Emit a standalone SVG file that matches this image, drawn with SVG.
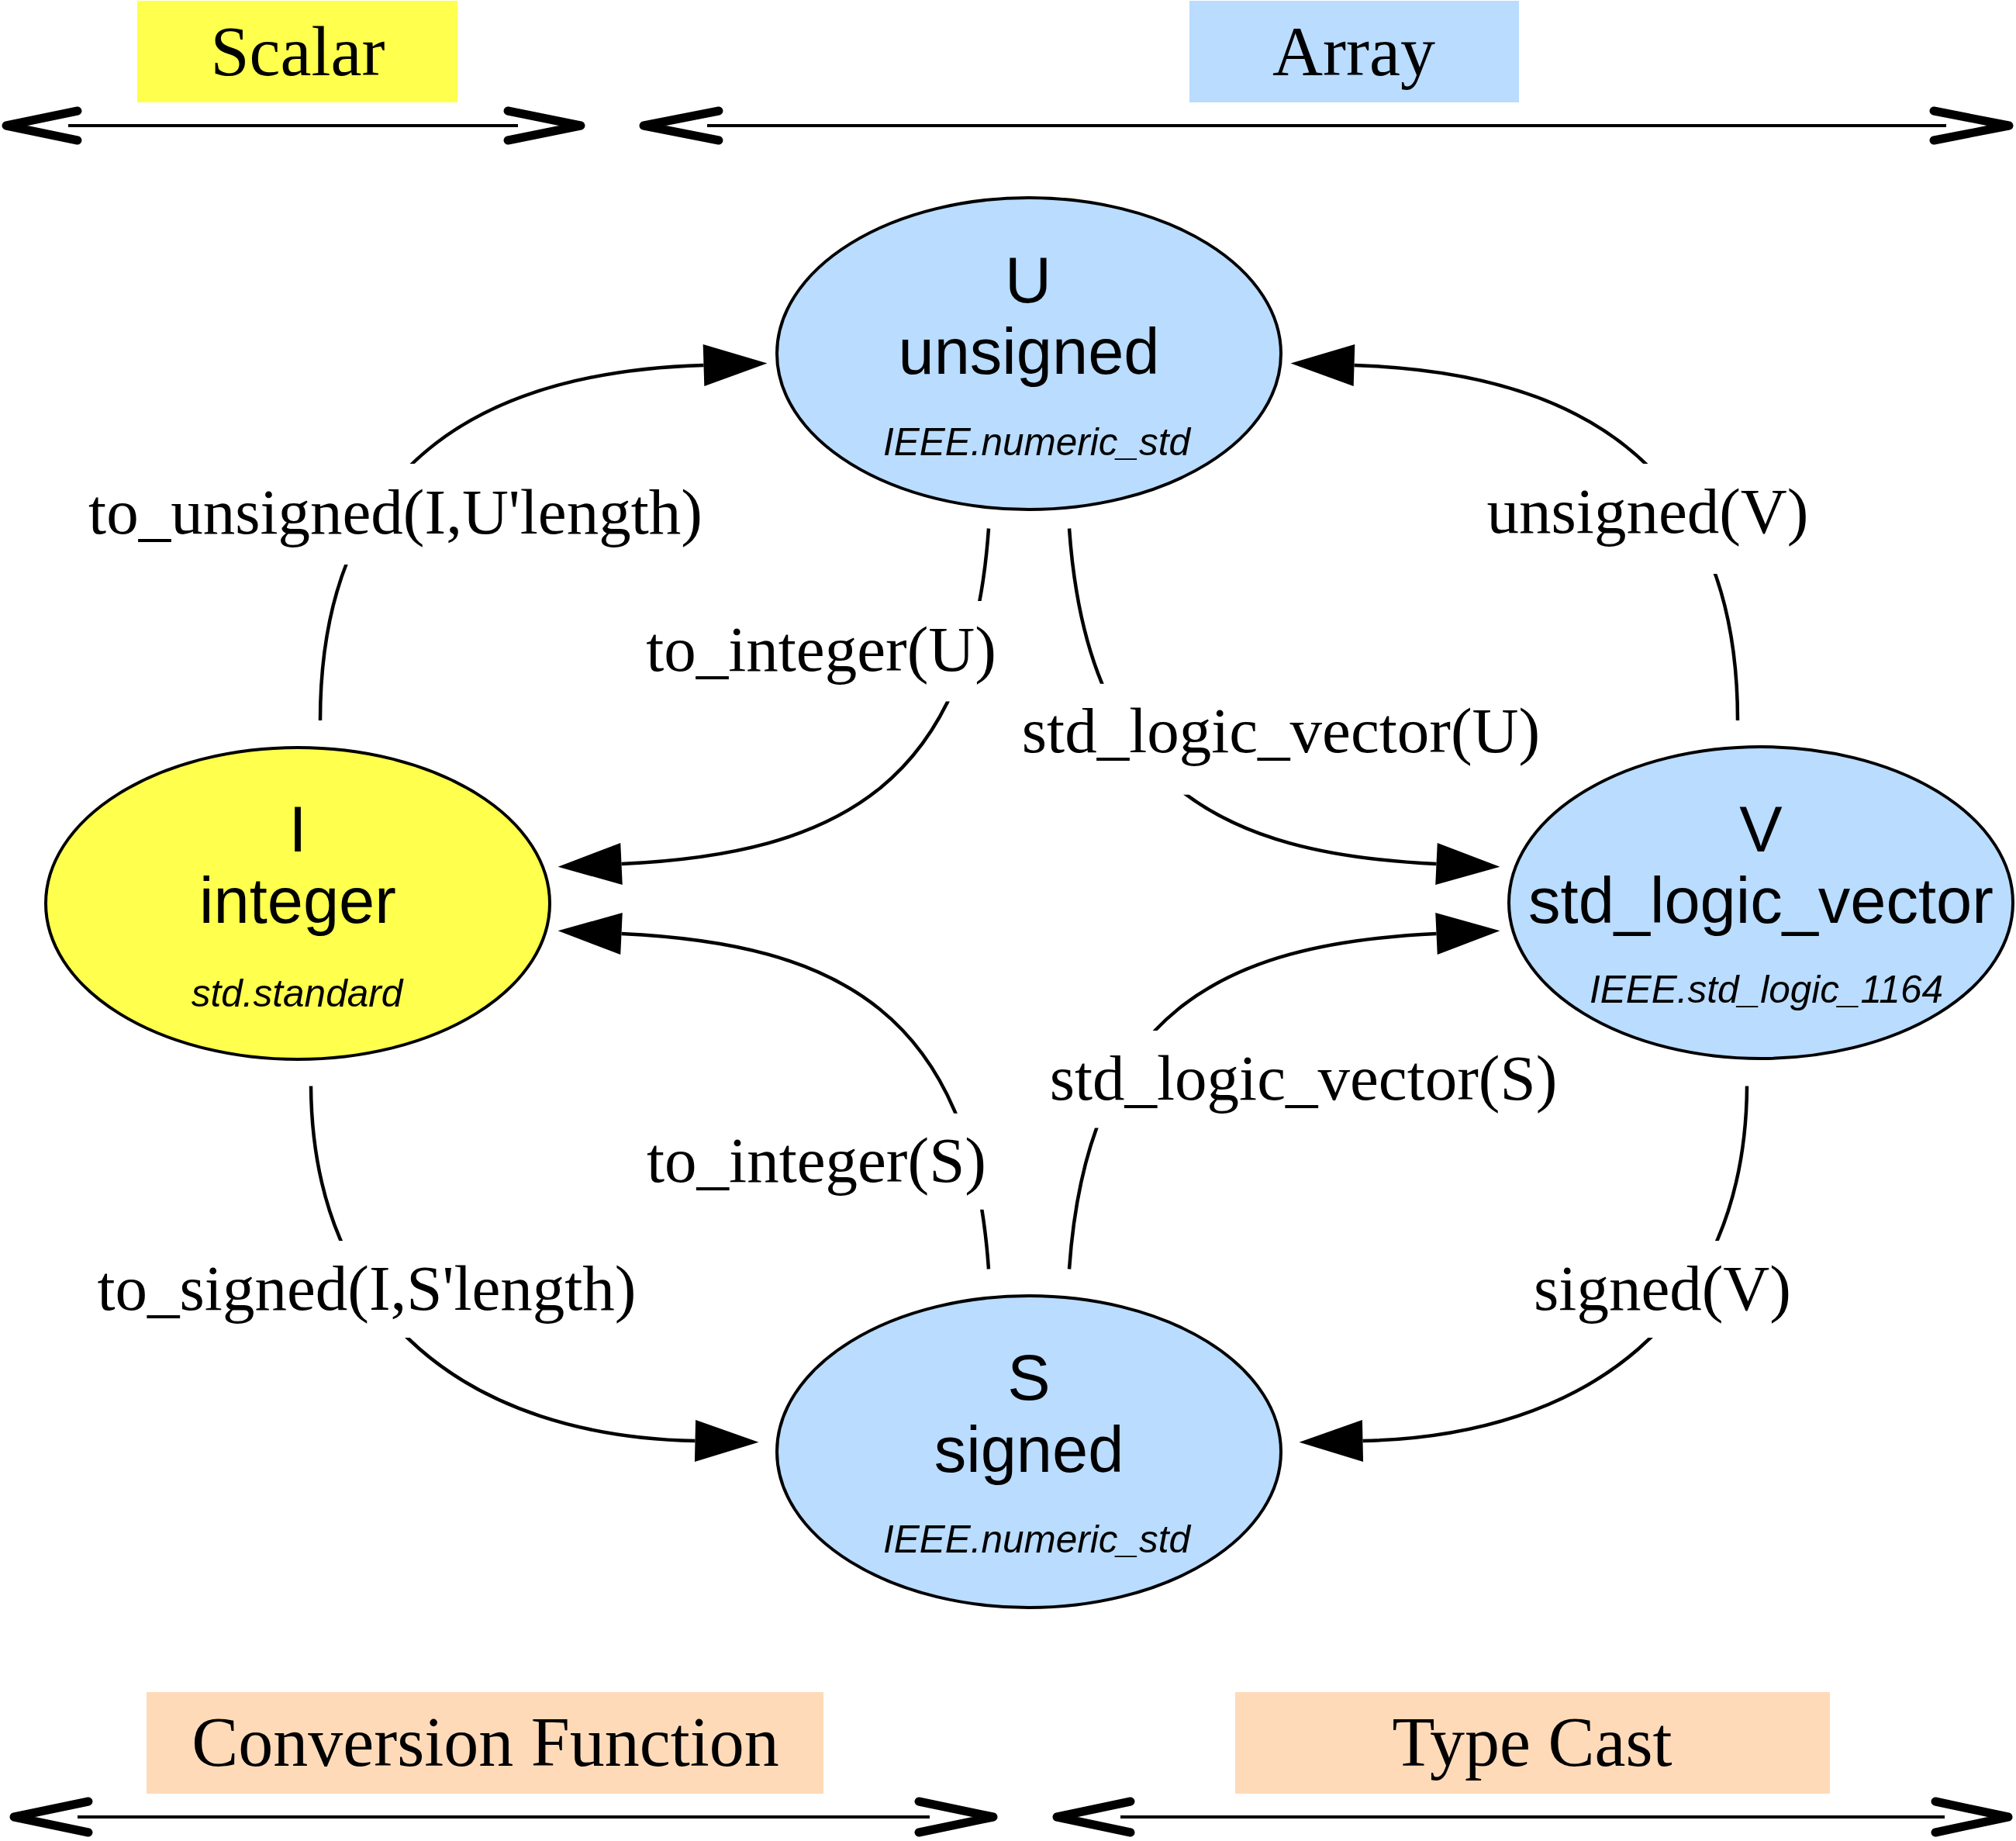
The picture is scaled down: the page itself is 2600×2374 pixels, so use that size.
<svg xmlns="http://www.w3.org/2000/svg" width="2600" height="2374" viewBox="0 0 2600 2374">
<style>
.bg{fill:#ffffff}
.lbl{font-family:"Liberation Serif","Times New Roman",serif;font-size:90px;fill:#000;text-anchor:middle}
.elbl{font-family:"Liberation Serif","Times New Roman",serif;font-size:83px;fill:#000;text-anchor:middle}
.nm{font-family:"Liberation Sans",Arial,sans-serif;font-size:83px;fill:#000;text-anchor:middle}
.pk{font-family:"Liberation Sans",Arial,sans-serif;font-size:49.5px;font-style:italic;fill:#000;text-anchor:middle}
.node{stroke:#000;stroke-width:4}
.yel{fill:#ffff4d}
.blu{fill:#b9dcff}
.pch{fill:#ffdab9}
.edge{fill:none;stroke:#000;stroke-width:4.5;marker-end:url(#ah)}
.axis{fill:none;stroke:#000;stroke-width:4}
.chev{fill:none;stroke:#000;stroke-width:11;stroke-linecap:round;stroke-linejoin:round}
</style>
<defs>
<marker id="ah" markerUnits="userSpaceOnUse" viewBox="0 -28 84 56" markerWidth="84" markerHeight="56" refX="0" refY="0" orient="auto" overflow="visible">
<path d="M0,-27 L82,0 L0,27 Z" fill="#000"/>
</marker>
<clipPath id="c1"><path clip-rule="evenodd" d="M0 0H2600V2374H0Z M0 598H2600V728H0Z"/></clipPath>
<clipPath id="c2"><path clip-rule="evenodd" d="M0 0H2600V2374H0Z M0 598H2600V740H0Z"/></clipPath>
<clipPath id="c3"><path clip-rule="evenodd" d="M0 0H2600V2374H0Z M0 775H2600V904.5H0Z"/></clipPath>
<clipPath id="c4"><path clip-rule="evenodd" d="M0 0H2600V2374H0Z M0 881.7H2600V1024.7H0Z"/></clipPath>
<clipPath id="c5"><path clip-rule="evenodd" d="M0 0H2600V2374H0Z M0 1435.7H2600V1559.7H0Z"/></clipPath>
<clipPath id="c6"><path clip-rule="evenodd" d="M0 0H2600V2374H0Z M0 1329H2600V1454.6H0Z"/></clipPath>
<clipPath id="c7"><path clip-rule="evenodd" d="M0 0H2600V2374H0Z M0 1600H2600V1725H0Z"/></clipPath>
<clipPath id="c8"><path clip-rule="evenodd" d="M0 0H2600V2374H0Z M0 1600H2600V1725H0Z"/></clipPath>
</defs>
<rect class="bg" x="0" y="0" width="2600" height="2374"/>

<g id="legend-scalar">
<rect class="yel" x="177" y="1" width="413" height="131"/>
<text class="lbl" x="384" y="97">Scalar</text>
<path class="axis" d="M88,162 H668"/>
<path class="chev" d="M100,143 L8,162 L100,181"/>
<path class="chev" d="M655,143 L749,162 L655,181"/>
</g>
<g id="legend-array">
<rect class="blu" x="1534" y="1" width="425" height="131"/>
<text class="lbl" x="1746" y="97">Array</text>
<path class="axis" d="M912,162 H2510"/>
<path class="chev" d="M927,143 L830,162 L927,181"/>
<path class="chev" d="M2494,143 L2591,162 L2494,181"/>
</g>
<g id="legend-conversion">
<rect class="pch" x="189" y="2182" width="873" height="131"/>
<text class="lbl" x="626" y="2277">Conversion Function</text>
<path class="axis" d="M100,2343 H1199"/>
<path class="chev" d="M114,2323 L18,2343 L114,2363"/>
<path class="chev" d="M1185,2323 L1281,2343 L1185,2363"/>
</g>
<g id="legend-cast">
<rect class="pch" x="1593" y="2182" width="767" height="131"/>
<text class="lbl" x="1976" y="2277">Type Cast</text>
<path class="axis" d="M1445,2343 H2508"/>
<path class="chev" d="M1458,2323 L1363,2343 L1458,2363"/>
<path class="chev" d="M2496,2323 L2590,2343 L2496,2363"/>
</g>

<g id="connectors">
<path class="edge" clip-path="url(#c1)" d="M413,929 C413,609 607.5,480 907.5,471"/>
<path class="edge" clip-path="url(#c2)" d="M2241,929 C2241,609 2046.5,480 1746.5,471"/>
<path class="edge" clip-path="url(#c3)" d="M1275,681.5 C1252,1011.5 1081.5,1101 801.5,1114"/>
<path class="edge" clip-path="url(#c4)" d="M1379,681.5 C1402,1011.5 1572.5,1101 1852.5,1114"/>
<path class="edge" clip-path="url(#c5)" d="M1275,1636.5 C1252,1306.5 1081.5,1217 801.5,1204"/>
<path class="edge" clip-path="url(#c6)" d="M1379,1636.5 C1402,1306.5 1572.5,1217 1852.5,1204"/>
<path class="edge" clip-path="url(#c7)" d="M401,1400.4 C403,1700 606.5,1852 896.5,1858"/>
<path class="edge" clip-path="url(#c8)" d="M2253,1400.4 C2251,1700 2047.5,1852 1757.5,1858"/>
<text class="elbl" x="510" y="688">to_unsigned(I,U'length)</text>
<text class="elbl" x="2125" y="687">unsigned(V)</text>
<text class="elbl" x="1059" y="865">to_integer(U)</text>
<text class="elbl" x="1652" y="970">std_logic_vector(U)</text>
<text class="elbl" x="1053" y="1524">to_integer(S)</text>
<text class="elbl" x="1681" y="1418">std_logic_vector(S)</text>
<text class="elbl" x="473" y="1689">to_signed(I,S'length)</text>
<text class="elbl" x="2144" y="1689">signed(V)</text>
</g>

<g id="node-U">
<ellipse class="node blu" cx="1327" cy="456" rx="325" ry="201"/>
<text class="nm" x="1326" y="390">U</text>
<text class="nm" x="1327" y="482">unsigned</text>
<text class="pk" x="1337" y="587">IEEE.numeric_std</text>
</g>
<g id="node-I">
<ellipse class="node yel" cx="384" cy="1165" rx="325" ry="201"/>
<text class="nm" x="384" y="1098">I</text>
<text class="nm" x="384" y="1190">integer</text>
<text class="pk" x="383" y="1298">std.standard</text>
</g>
<g id="node-V">
<ellipse class="node blu" cx="2271" cy="1164" rx="325" ry="201"/>
<text class="nm" x="2271" y="1098">V</text>
<text class="nm" x="2271" y="1190">std_logic_vector</text>
<text class="pk" x="2278" y="1293">IEEE.std_logic_1164</text>
</g>
<g id="node-S">
<ellipse class="node blu" cx="1327" cy="1872" rx="325" ry="201"/>
<text class="nm" x="1327" y="1805">S</text>
<text class="nm" x="1327" y="1898">signed</text>
<text class="pk" x="1337" y="2002">IEEE.numeric_std</text>
</g>
</svg>
